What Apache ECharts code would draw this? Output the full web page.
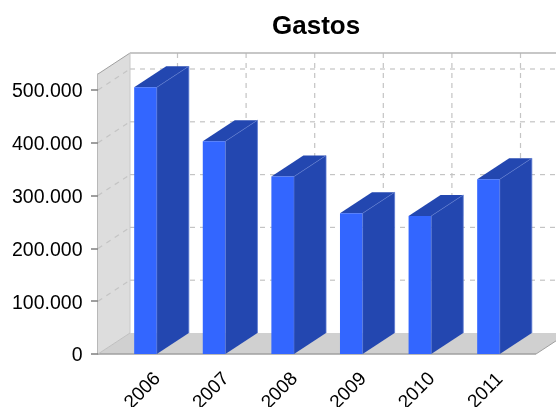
<!DOCTYPE html>
<html>
<head>
<meta charset="utf-8">
<title>Gastos</title>
<style>
html, body { margin: 0; padding: 0; background: #fff; }
#main { width: 556px; height: 407px; }
</style>
<script src="https://cdn.jsdelivr.net/npm/echarts@6/dist/echarts.min.js"></script>
</head>
<body>
<div id="main"></div>
<script>
var years = ['2006', '2007', '2008', '2009', '2010', '2011'];
var gastos = [505000, 403000, 336000, 266500, 261400, 331000];
var yTicks = [0, 100000, 200000, 300000, 400000, 500000];

// desplazamiento del efecto 3D
var depthX = 32, depthY = -21;
// margen entre el eje y la primera categoria
var pad = 13.2;

function formatMiles(v) {
	return '{n|' + String(v).replace(/\B(?=(\d{3})+$)/g, '.') + '}';
}

function line(x1, y1, x2, y2, color, width, dash) {
	return {
		type: 'line',
		shape: { x1: x1, y1: y1, x2: x2, y2: y2 },
		style: { stroke: color, lineWidth: width, lineDash: dash || null }
	};
}

function poly(points, fill, stroke) {
	return {
		type: 'polygon',
		shape: { points: points },
		style: { fill: fill, stroke: stroke || null, lineWidth: stroke ? 1 : 0 }
	};
}

// paredes, suelo y rejilla
function renderWalls(params, api) {
	var sys = params.coordSys;
	var x0 = sys.x - pad, x1 = sys.x + sys.width + pad;
	var top = sys.y, bottom = sys.y + sys.height;
	var gridColor = '#c4c4c4', dash = [5, 5];
	var children = [];

	children.push(poly([[x0, top], [x0 + depthX, top + depthY], [x0 + depthX, bottom + depthY], [x0, bottom]], '#dddddd'));
	children.push(poly([[x0, bottom], [x0 + depthX, bottom + depthY], [x1 + depthX, bottom + depthY], [x1, bottom]], '#d0d0d0'));

	yTicks.forEach(function (t) {
		if (t === 0) return;
		var y = api.coord([0, t])[1];
		children.push(line(x0, y, x0 + depthX, y + depthY, gridColor, 1.2, dash));
		children.push(line(x0 + depthX, y + depthY, x1 + depthX, y + depthY, gridColor, 1.2, dash));
	});
	years.forEach(function (c, i) {
		var x = api.coord([i, 0])[0] + depthX;
		children.push(line(x, top + depthY, x, bottom + depthY, gridColor, 1.2, dash));
	});

	children.push(line(x0, top, x0 + depthX, top + depthY, '#a0a0a0', 1));
	children.push(line(x0 + depthX, top + depthY, x1 + depthX, top + depthY, '#b4b4b4', 1.5));
	children.push(line(x0 + depthX, top + depthY, x0 + depthX, bottom + depthY, '#c8c8c8', 1));
	children.push(line(x1, bottom, x1 + depthX, bottom + depthY, '#a0a0a0', 1));
	children.push(line(x0, bottom, x1, bottom, '#a0a0a0', 1.5));
	children.push(line(x0, bottom, x0 + depthX, bottom + depthY, '#c0c0c0', 1));

	return { type: 'group', children: children };
}

function renderBar(params, api) {
	var c = api.coord([api.value(0), api.value(1)]);
	var base = api.coord([api.value(0), 0])[1];
	var w = api.size([1, 0])[0] * 0.33;
	var l = c[0] - w / 2, r = c[0] + w / 2, t = c[1];
	var edge = '#5a78d0';
	return {
		type: 'group',
		children: [
			poly([[r, t], [r + depthX, t + depthY], [r + depthX, base + depthY], [r, base]], '#2347b0'),
			poly([[l, t], [l + depthX, t + depthY], [r + depthX, t + depthY], [r, t]], '#2347b0'),
			{ type: 'rect', shape: { x: l, y: t, width: w, height: base - t }, style: { fill: '#3366ff' } },
			line(r, t, r + depthX, t + depthY, edge, 0.6),
			line(r + depthX, t + depthY, r + depthX, base + depthY, edge, 0.8),
			line(r, t, r, base, edge, 0.6)
		]
	};
}

var chart = echarts.init(document.getElementById('main'));
chart.setOption({
	animation: false,
	backgroundColor: '#ffffff',
	title: {
		text: 'Gastos',
		left: 272,
		top: 14,
		padding: 0,
		textStyle: { fontFamily: 'Liberation Sans', fontSize: 26, fontWeight: 'bold', color: '#000' }
	},
	grid: { left: 111.2, width: 411.6, top: 74, height: 280, outerBoundsMode: 'none' },
	xAxis: {
		type: 'category',
		data: years,
		axisLine: { show: false },
		axisTick: { show: false },
		axisLabel: {
			rotate: 45,
			margin: 34,
			interval: 0,
			align: 'center',
			verticalAlign: 'middle',
			padding: [0, 8, 0, 0],
			fontFamily: 'Liberation Sans',
			fontSize: 19,
			color: '#000'
		}
	},
	yAxis: {
		type: 'value',
		min: 0,
		max: 530300,
		offset: 13.2,
		splitLine: { show: false },
		axisLine: { show: true, lineStyle: { color: '#a0a0a0', width: 1.5 } },
		axisTick: { show: true, length: 7, customValues: yTicks, lineStyle: { color: '#808080', width: 1.5 } },
		axisLabel: {
			customValues: yTicks,
			margin: 15.5,
			formatter: formatMiles,
			rich: {
				n: {
					padding: [4, 0, 0, 0],
					fontFamily: 'Liberation Sans',
					fontSize: 19.5,
					color: '#000'
				}
			}
		}
	},
	series: [
		{ type: 'custom', coordinateSystem: 'cartesian2d', data: [[0, 0]], renderItem: renderWalls, silent: true, z: 1 },
		{
			type: 'custom',
			coordinateSystem: 'cartesian2d',
			encode: { x: 0, y: 1 },
			data: gastos.map(function (v, i) { return [i, v]; }),
			renderItem: renderBar,
			z: 2
		}
	]
});
</script>
</body>
</html>
